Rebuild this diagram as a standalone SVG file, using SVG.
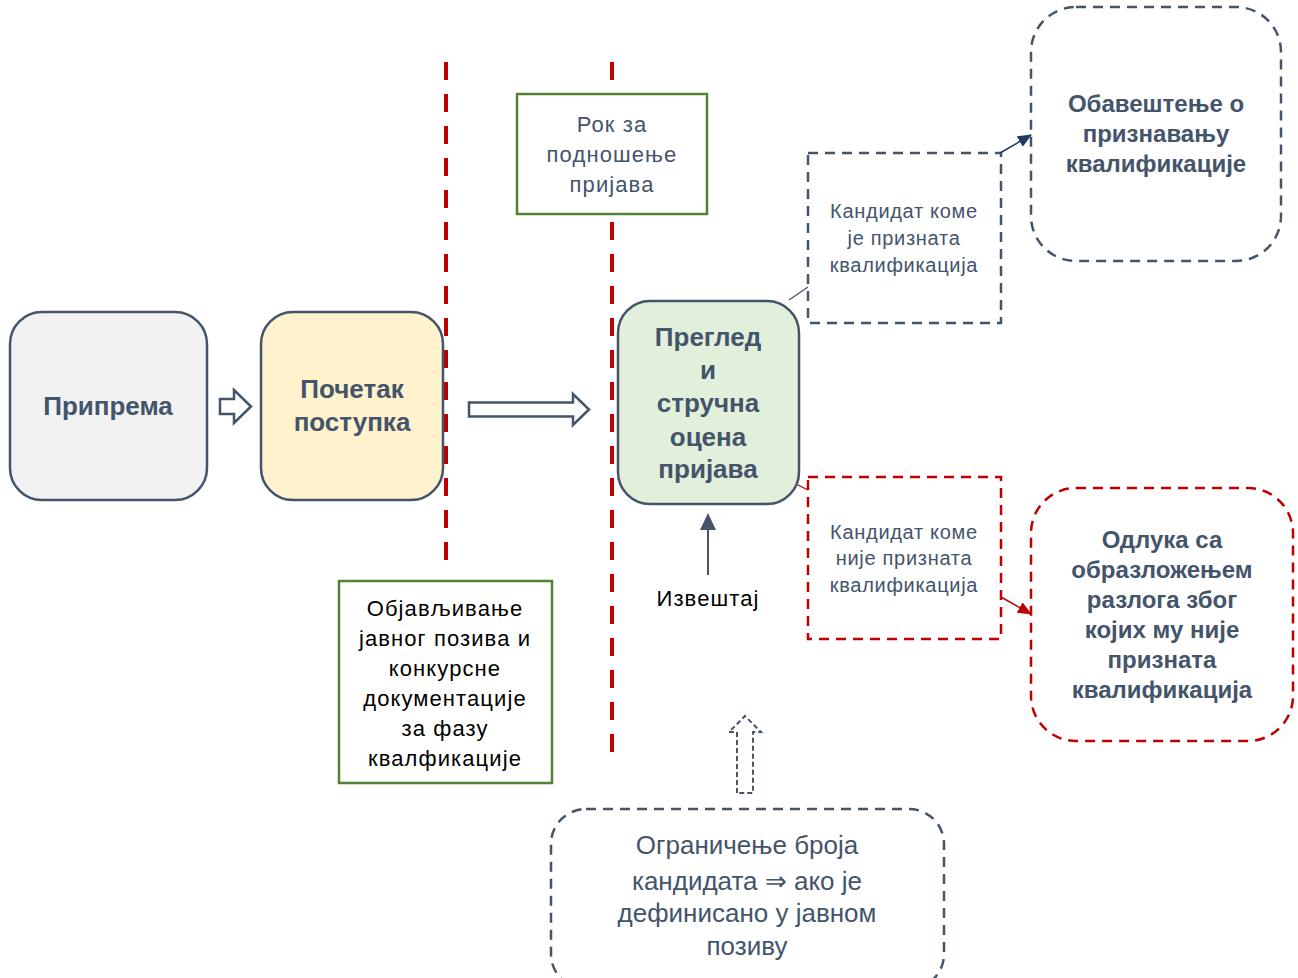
<svg xmlns="http://www.w3.org/2000/svg" width="1298" height="978" viewBox="0 0 1298 978">
<defs>
<style>
.t{font-family:"Liberation Sans",Arial,sans-serif;text-anchor:middle}
.b{font-weight:bold;fill:#44546a;font-size:26px}
.bs{font-weight:bold;fill:#44546a;font-size:24px}
.g{fill:#44546a}
.k{fill:#000}
.m{font-size:22px;letter-spacing:1.1px}
.s{font-size:20px;letter-spacing:0.7px}
.l{font-size:26px}
.node{stroke:#44546a;stroke-width:2.5}
.green{fill:#fff;stroke:#548235;stroke-width:2.5}
.redv{stroke:#c00000;stroke-width:4;stroke-dasharray:18 14;fill:none}
.dg{fill:none;stroke:#44546a;stroke-width:2.5;stroke-dasharray:10 7}
.dr{fill:none;stroke:#c00000;stroke-width:2.5;stroke-dasharray:10 7}
</style>
<marker id="ahb" markerWidth="14" markerHeight="12" refX="13" refY="6" orient="auto" markerUnits="userSpaceOnUse"><path d="M0,0 L14,6 L0,12 z" fill="#203864"/></marker>
<marker id="ahr" markerWidth="14" markerHeight="12" refX="13" refY="6" orient="auto" markerUnits="userSpaceOnUse"><path d="M0,0 L14,6 L0,12 z" fill="#c00000"/></marker>
</defs>
<rect width="1298" height="978" fill="#fff"/>

<g id="dividers">
<line class="redv" x1="446" y1="62" x2="446" y2="572"/>
<line class="redv" x1="612" y1="62" x2="612" y2="762"/>
</g>

<g id="priprema">
<rect class="node" x="10" y="312" width="197" height="188" rx="32" fill="#f2f2f2"/>
<text class="t b" x="108" y="415">Припрема</text>
</g>

<g id="pocetak">
<rect class="node" x="261" y="312" width="182" height="188" rx="32" fill="#fff2cc"/>
<text class="t b" x="352" y="398">Почетак</text>
<text class="t b" x="352" y="431">поступка</text>
</g>

<g id="pregled">
<rect class="node" x="618" y="301" width="181" height="203" rx="32" fill="#e2efda"/>
<text class="t b" x="708" y="346">Преглед</text>
<text class="t b" x="708" y="379">и</text>
<text class="t b" x="708" y="412">стручна</text>
<text class="t b" x="708" y="446">оцена</text>
<text class="t b" x="708" y="478">пријава</text>
</g>

<g id="rok">
<rect class="green" x="517" y="94" width="190" height="120"/>
<text class="t g m" x="612" y="132">Рок за</text>
<text class="t g m" x="612" y="162">подношење</text>
<text class="t g m" x="612" y="192">пријава</text>
</g>

<g id="objavljivanje">
<rect class="green" x="339" y="581" width="213" height="202"/>
<text class="t k m" x="445" y="616">Објављивање</text>
<text class="t k m" x="445" y="646">јавног позива и</text>
<text class="t k m" x="445" y="676">конкурсне</text>
<text class="t k m" x="445" y="706">документације</text>
<text class="t k m" x="445" y="736">за фазу</text>
<text class="t k m" x="445" y="766">квалфикације</text>
</g>

<g id="izvestaj">
<text class="t k m" x="708" y="606">Извештај</text>
</g>

<g id="kandidat-da">
<rect class="dg" x="808" y="153" width="193" height="170"/>
<text class="t g s" x="904" y="218">Кандидат коме</text>
<text class="t g s" x="904" y="245">је призната</text>
<text class="t g s" x="904" y="272">квалификација</text>
</g>

<g id="kandidat-ne">
<rect class="dr" x="808" y="477" width="193" height="162"/>
<text class="t g s" x="904" y="539">Кандидат коме</text>
<text class="t g s" x="904" y="565">није призната</text>
<text class="t g s" x="904" y="592">квалификација</text>
</g>

<g id="obavestenje">
<rect class="dg" x="1031" y="7" width="250" height="254" rx="45"/>
<text class="t bs" x="1156" y="112">Обавештење о</text>
<text class="t bs" x="1156" y="142">признавању</text>
<text class="t bs" x="1156" y="172">квалификације</text>
</g>

<g id="odluka">
<rect class="dr" x="1031" y="488" width="262" height="253" rx="45"/>
<text class="t bs" x="1162" y="548">Одлука са</text>
<text class="t bs" x="1162" y="578">образложењем</text>
<text class="t bs" x="1162" y="608">разлога због</text>
<text class="t bs" x="1162" y="638">којих му није</text>
<text class="t bs" x="1162" y="668">призната</text>
<text class="t bs" x="1162" y="698">квалификација</text>
</g>

<g id="ogranicenje">
<rect class="dg" x="551" y="809" width="393" height="180" rx="35"/>
<text class="t g l" x="747" y="854">Ограничење броја</text>
<text class="t g l" x="747" y="890">кандидата ⇒ ако је</text>
<text class="t g l" x="747" y="922">дефинисано у јавном</text>
<text class="t g l" x="747" y="955">позиву</text>
</g>

<g id="connectors">
<path d="M220,399 H234 V390 L251,406.5 L234,423 V414 H220 Z" fill="#fff" stroke="#44546a" stroke-width="2.5"/>
<path d="M469,402.5 H573 V394 L589,409.5 L573,425 V416.5 H469 Z" fill="#fff" stroke="#44546a" stroke-width="2.5"/>
<path d="M737,793 V732 H729 L745,716 L761,732 H753 V793 Z" fill="#fff" stroke="#44546a" stroke-width="2" stroke-dasharray="5 3"/>
<line x1="708" y1="575" x2="708" y2="516" stroke="#44546a" stroke-width="2"/>
<path d="M700,530 L708,513 L716,530 Z" fill="#44546a"/>
<line x1="789" y1="300" x2="808" y2="287" stroke="#44546a" stroke-width="1.3"/>
<line x1="798" y1="485" x2="808" y2="490" stroke="#c00000" stroke-width="1.3"/>
<line x1="1000" y1="153" x2="1031" y2="135" stroke="#203864" stroke-width="1.5" marker-end="url(#ahb)"/>
<line x1="1001" y1="597" x2="1031" y2="614" stroke="#c00000" stroke-width="1.5" marker-end="url(#ahr)"/>
</g>
</svg>
